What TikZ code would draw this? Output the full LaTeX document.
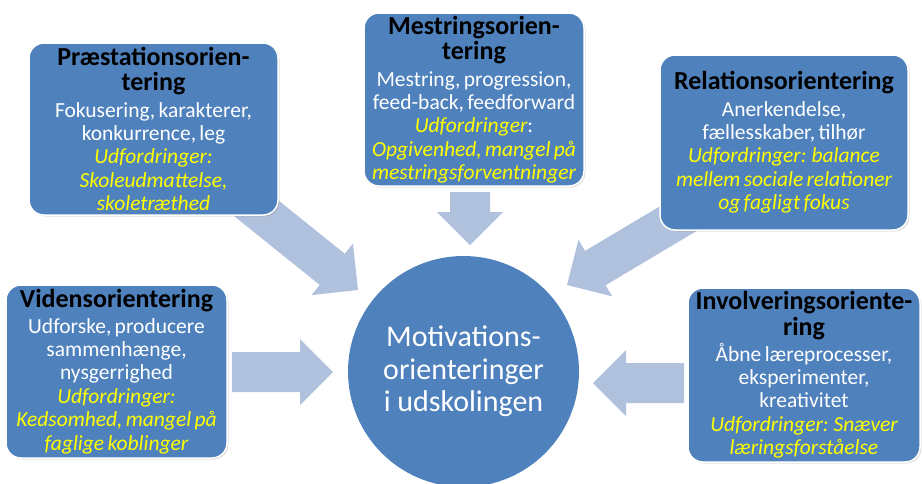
\documentclass[tikz,border=0pt]{standalone}
\usepackage{fontspec}
\setmainfont{Carlito}
\usetikzlibrary{calc,shadows}

\definecolor{orientblue}{HTML}{4F81BD}
\definecolor{pilblue}{HTML}{B0C1DE}
\definecolor{udfyellow}{HTML}{FFFF00}

\newcommand{\overskrift}{\fontsize{26}{25.5}\selectfont\bfseries\color{black}}
\newcommand{\brod}{\vspace{3.5pt}\fontsize{21.5}{23}\selectfont\mdseries\upshape\color{white}}
\newcommand{\udf}{\fontsize{21.5}{23.5}\selectfont\itshape\color{udfyellow}}
% block arrow from tail #1 to tip #2
\newcommand{\blokpil}[2]{%
  \coordinate (hals) at ($(#2)!33pt!(#1)$);
  \fill[pilblue] ($(#1)!20pt!-90:(#2)$) -- ($(hals)!20pt!-90:(#2)$) -- ($(hals)!33pt!-90:(#2)$) -- (#2)
    -- ($(hals)!33pt!90:(#2)$) -- ($(hals)!20pt!90:(#2)$) -- ($(#1)!20pt!90:(#2)$) -- cycle;}

\begin{document}
\begin{tikzpicture}[x=1pt,y=-1pt,
  orient/.style={rectangle,rounded corners=15pt,fill=orientblue,draw=white,line width=1.5pt,
    align=center,inner sep=0pt,text width=240pt,
    drop shadow={opacity=0.25,shadow xshift=1.5pt,shadow yshift=-1.5pt}},
  hub/.style={circle,fill=orientblue,minimum size=231pt,inner sep=0pt,align=center,
    text=white,font=\fontsize{30}{32.5}\selectfont}]
\useasboundingbox (0,0) rectangle (922,483);

% arrow ends
\coordinate (hale1) at (241,196);  \coordinate (spids1) at (358,290);
\coordinate (hale2) at (470,192);  \coordinate (spids2) at (470,245);
\coordinate (hale3) at (696,208);  \coordinate (spids3) at (567,285);
\coordinate (hale4) at (232,372);  \coordinate (spids4) at (333,372);
\coordinate (hale5) at (684,383);  \coordinate (spids5) at (593,383);
\blokpil{hale1}{spids1}
\blokpil{hale2}{spids2}
\blokpil{hale3}{spids3}
\blokpil{hale4}{spids4}
\blokpil{hale5}{spids5}

\node[orient,minimum width=249pt,minimum height=172pt] (praest) at (153.5,129)
  {\overskrift Præstationsorien-\\ tering\par \brod Fokusering, karakterer,\\ konkurrence, leg\par
   \udf Udfordringer:\\ Skoleudmattelse,\\ skoletræthed\par};
\node[orient,minimum width=220pt,minimum height=173pt,text width=216pt] (mestring) at (474,99.5)
  {\overskrift Mestringsorien-\\ tering\par \brod Mestring, progression,\\ feed-back, feedforward\par
   \udf Udfordringer{\upshape\color{white}:}\\ Opgivenhed, mangel på\\ mestringsforventninger\par};
\node[orient,minimum width=248pt,minimum height=175pt] (relation) at (784,142.5)
  {\overskrift Relationsorientering\par \brod Anerkendelse,\\ fællesskaber, tilhør\par
   \udf Udfordringer: balance\\ mellem sociale relationer\\ og fagligt fokus\par};
\node[orient,minimum width=221pt,minimum height=173pt,text width=216pt] (viden) at (116.5,371.5)
  {\overskrift Vidensorientering\par \brod Udforske, producere\\ sammenhænge,\\ nysgerrighed\par
   \udf Udfordringer:\\ Kedsomhed, mangel på\\ faglige koblinger\par};
\node[orient,minimum width=232pt,minimum height=174pt,text width=228pt] (involv) at (804,375)
  {\overskrift Involveringsoriente-\\ ring\par \brod Åbne læreprocesser,\\ eksperimenter,\\ kreativitet\par
   \udf Udfordringer: Snæver\\ læringsforståelse\par};

\node[hub] (motiv) at (463.5,371.5) {Motivations-\\ orienteringer\\ i udskolingen};
\end{tikzpicture}
\end{document}
